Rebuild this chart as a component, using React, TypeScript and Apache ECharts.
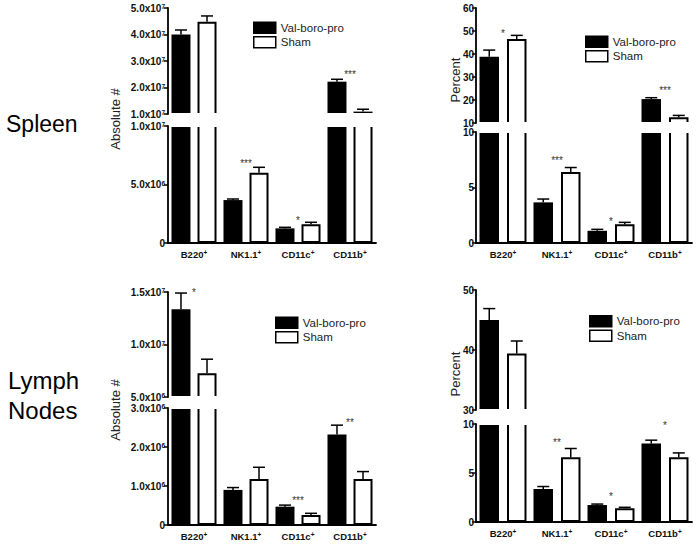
import React, { useEffect, useRef } from 'react';
import * as echarts from 'echarts';

const FONT = 'Liberation Sans, Arial, Helvetica, sans-serif';

const categories = ['B220', 'NK1.1', 'CD11c', 'CD11b'];
const seriesNames = ['Val-boro-pro', 'Sham'];

// Spleen, absolute numbers
const spleenAbsVal = [4.0e7, 3.67e6, 1.25e6, 2.22e7];
const spleenAbsValErr = [0.17e7, 0.09e6, 0.09e6, 0.09e7];
const spleenAbsSham = [4.48e7, 6.0e6, 1.6e6, 1.09e7];
const spleenAbsShamErr = [0.22e7, 0.47e6, 0.17e6, 0.09e7];
const spleenAbsStars = [
  { cat: 'NK1.1', y: 6.8e6, text: '***' },
  { cat: 'CD11c', y: 1.9e6, text: '*' },
  { cat: 'CD11b', y: 2.5e7, text: '***' },
];
const spleenAbsTopTicks = [1e7, 2e7, 3e7, 4e7, 5e7];
const spleenAbsBotTicks = [0, 5e6, 1e7];

// Spleen, percent
const spleenPctVal = [38.8, 3.66, 1.1, 20.4];
const spleenPctValErr = [2.9, 0.3, 0.13, 0.6];
const spleenPctSham = [46.5, 6.4, 1.68, 12.5];
const spleenPctShamErr = [1.6, 0.4, 0.18, 0.8];
const spleenPctStars = [
  { cat: 'B220', y: 49, text: '*' },
  { cat: 'NK1.1', y: 7.43, text: '***' },
  { cat: 'CD11c', y: 1.94, text: '*' },
  { cat: 'CD11b', y: 24.0, text: '***' },
];
const spleenPctTopTicks = [10, 20, 30, 40, 50, 60];
const spleenPctBotTicks = [0, 5, 10];

// Lymph nodes, absolute numbers
const lymphAbsVal = [1.335e7, 0.9e6, 0.47e6, 2.32e6];
const lymphAbsValErr = [0.155e7, 0.06e6, 0.04e6, 0.24e6];
const lymphAbsSham = [7.26e6, 1.18e6, 0.256e6, 1.18e6];
const lymphAbsShamErr = [1.34e6, 0.3e6, 0.044e6, 0.19e6];
const lymphAbsStars = [
  { cat: 'B220', y: 1.5e7, text: '*' },
  { cat: 'CD11c', y: 0.62e6, text: '***' },
  { cat: 'CD11b', y: 2.62e6, text: '**' },
];
const lymphAbsTopTicks = [5e6, 1e7, 1.5e7];
const lymphAbsBotTicks = [0, 1e6, 2e6, 3e6];

// Lymph nodes, percent
const lymphPctVal = [45, 3.37, 1.73, 8.0];
const lymphPctValErr = [1.9, 0.25, 0.1, 0.35];
const lymphPctSham = [39.4, 6.6, 1.4, 6.6];
const lymphPctShamErr = [2.1, 0.9, 0.1, 0.45];
const lymphPctStars = [
  { cat: 'NK1.1', y: 8.1, text: '**' },
  { cat: 'CD11c', y: 2.6, text: '*' },
  { cat: 'CD11b', y: 9.8, text: '*' },
];
const lymphPctTopTicks = [30, 40, 50];
const lymphPctBotTicks = [0, 5, 10];

type Seg = { y0: number; y1: number; ticks: number[] };
type Star = { cat: string; y: number; text: string };
type Panel = {
  val: number[]; valErr: number[]; sham: number[]; shamErr: number[]; stars: Star[];
  sci: boolean; axisName: string; left: number; width: number; top: Seg; bot: Seg;
  legend: { left: number; top: number }; nameX: number; nameY: number;
  barWidth: number; barGap: number; labelMargin: number;
};

const panels: Panel[] = [
  {
    val: spleenAbsVal, valErr: spleenAbsValErr, sham: spleenAbsSham, shamErr: spleenAbsShamErr, stars: spleenAbsStars,
    sci: true, axisName: 'Absolute #', left: 168, width: 208,
    top: { y0: 8, y1: 114, ticks: spleenAbsTopTicks },
    bot: { y0: 126, y1: 243, ticks: spleenAbsBotTicks },
    legend: { left: 253, top: 21.5 }, nameX: 115, nameY: 119, barWidth: 19, barGap: 0.37, labelMargin: 3,
  },
  {
    val: spleenPctVal, valErr: spleenPctValErr, sham: spleenPctSham, shamErr: spleenPctShamErr, stars: spleenPctStars,
    sci: false, axisName: 'Percent', left: 476, width: 216,
    top: { y0: 8, y1: 123, ticks: spleenPctTopTicks },
    bot: { y0: 132, y1: 243, ticks: spleenPctBotTicks },
    legend: { left: 585, top: 35.5 }, nameX: 455, nameY: 80, barWidth: 19.5, barGap: 0.41, labelMargin: 2,
  },
  {
    val: lymphAbsVal, valErr: lymphAbsValErr, sham: lymphAbsSham, shamErr: lymphAbsShamErr, stars: lymphAbsStars,
    sci: true, axisName: 'Absolute #', left: 168, width: 208,
    top: { y0: 292, y1: 397, ticks: lymphAbsTopTicks },
    bot: { y0: 408, y1: 525, ticks: lymphAbsBotTicks },
    legend: { left: 275, top: 316.5 }, nameX: 115, nameY: 410, barWidth: 19, barGap: 0.37, labelMargin: 3,
  },
  {
    val: lymphPctVal, valErr: lymphPctValErr, sham: lymphPctSham, shamErr: lymphPctShamErr, stars: lymphPctStars,
    sci: false, axisName: 'Percent', left: 476, width: 216,
    top: { y0: 290, y1: 410, ticks: lymphPctTopTicks },
    bot: { y0: 424, y1: 522, ticks: lymphPctBotTicks },
    legend: { left: 589, top: 315 }, nameX: 455, nameY: 374, barWidth: 19.5, barGap: 0.41, labelMargin: 2,
  },
];

function sciLabel(v: number): string {
  if (v === 0) return '{a|0}';
  const e = Math.floor(Math.log10(v) + 1e-9);
  const m = v / Math.pow(10, e);
  return `{a|${m.toFixed(1)}x10}{s|${e}}`;
}

function buildOption() {
  const grids: any[] = [];
  const xAxes: any[] = [];
  const yAxes: any[] = [];
  const series: any[] = [];
  const legends: any[] = [];
  const graphics: any[] = [];

  panels.forEach((p) => {
    const segs: Array<['top' | 'bot', Seg]> = [['top', p.top], ['bot', p.bot]];
    const off = (p.barWidth + p.barWidth * p.barGap) / 2;
    segs.forEach(([kind, s]) => {
      const idx = grids.length;
      const min = s.ticks[0];
      const max = s.ticks[s.ticks.length - 1];
      grids.push({ left: p.left, top: s.y0, width: p.width, height: s.y1 - s.y0 });
      xAxes.push({
        type: 'category', gridIndex: idx, data: categories, show: kind === 'bot',
        axisLine: { show: true, lineStyle: { color: '#000', width: 1.8 } },
        axisTick: { show: false },
        axisLabel: {
          interval: 0, margin: 6,
          formatter: (v: string) => `{a|${v}}{s|+}`,
          rich: {
            a: { fontSize: 9.5, fontWeight: 'bold', fontFamily: FONT, color: '#111' },
            s: { fontSize: 6.5, fontWeight: 'bold', fontFamily: FONT, color: '#111', verticalAlign: 'top' },
          },
        },
      });
      yAxes.push({
        type: 'value', gridIndex: idx, min, max,
        splitLine: { show: false },
        axisLine: { show: true, lineStyle: { color: '#000', width: 1.8 } },
        axisTick: { show: true, length: 4, customValues: s.ticks, lineStyle: { color: '#000', width: 1.5 } },
        axisLabel: {
          margin: p.labelMargin,
          customValues: s.ticks,
          formatter: (v: number) => (p.sci ? sciLabel(v) : `{a|${v}}`),
          rich: {
            a: { fontSize: 10, fontWeight: 'bold', fontFamily: FONT, color: '#111' },
            s: { fontSize: 6.5, fontWeight: 'bold', fontFamily: FONT, color: '#111', verticalAlign: 'top' },
          },
        },
      });
      const inSeg = (v: number) => (kind === 'top' ? v >= min : true);
      series.push({
        type: 'bar', name: seriesNames[0], xAxisIndex: idx, yAxisIndex: idx,
        data: p.val.map((v) => (inSeg(v) ? v : null)),
        barWidth: p.barWidth, barGap: `${p.barGap * 100}%`,
        itemStyle: { color: '#000' },
      });
      series.push({
        type: 'bar', name: seriesNames[1], xAxisIndex: idx, yAxisIndex: idx,
        data: p.sham.map((v) => (inSeg(v) ? v : null)),
        barWidth: p.barWidth, barGap: `${p.barGap * 100}%`,
        itemStyle: { color: '#fff', borderColor: '#000', borderWidth: 2 },
      });
      const errData: number[][] = [];
      p.val.forEach((v, i) => {
        const ok = kind === 'top' ? v >= min : v + p.valErr[i] <= max;
        if (ok) errData.push([i, v, p.valErr[i], 0]);
      });
      p.sham.forEach((v, i) => {
        const ok = kind === 'top' ? v >= min : v + p.shamErr[i] <= max;
        if (ok) errData.push([i, v, p.shamErr[i], 1]);
      });
      series.push({
        type: 'custom', xAxisIndex: idx, yAxisIndex: idx, data: errData,
        renderItem: (params: any, api: any) => {
          const c = api.value(0), v = api.value(1), e = api.value(2), g = api.value(3);
          const a = api.coord([c, v]);
          const b = api.coord([c, v + e]);
          const x = a[0] + (g === 0 ? -off : off);
          const cap = 6;
          return {
            type: 'group',
            children: [
              { type: 'line', shape: { x1: x, y1: a[1], x2: x, y2: b[1] }, style: { stroke: '#000', lineWidth: 1.5 } },
              { type: 'line', shape: { x1: x - cap, y1: b[1], x2: x + cap, y2: b[1] }, style: { stroke: '#000', lineWidth: 1.5 } },
            ],
          };
        },
      });
      const segStars = p.stars.filter((st) => (kind === 'top' ? st.y >= min : st.y < max));
      series.push({
        type: 'custom', xAxisIndex: idx, yAxisIndex: idx, z: 110,
        data: segStars.map((st) => [categories.indexOf(st.cat), st.y]),
        renderItem: (params: any, api: any) => {
          const st = segStars[params.dataIndex];
          const pt = api.coord([api.value(0), api.value(1)]);
          return {
            type: 'text', x: pt[0], y: pt[1],
            style: { text: st.text, fill: '#333', fontSize: 10, fontFamily: FONT, align: 'center', verticalAlign: 'middle' },
          };
        },
      });
    });

    legends.push({
      data: seriesNames, orient: 'vertical', left: p.legend.left, top: p.legend.top, padding: 0,
      itemWidth: 22, itemHeight: 11, itemGap: 2, icon: 'rect', selectedMode: false,
      itemStyle: { borderColor: '#000', borderWidth: 1.5 },
      textStyle: { fontSize: 11.5, fontFamily: FONT, color: '#222' },
    });

    // white gap of the broken axis
    graphics.push({
      type: 'rect', z: 100,
      shape: { x: p.left + 1.5, y: p.top.y1 - 1, width: p.width + 4, height: p.bot.y0 - p.top.y1 + 2 },
      style: { fill: '#fff' },
    });
    graphics.push({
      type: 'text', x: p.nameX, y: p.nameY, rotation: Math.PI / 2, z: 100,
      style: { text: p.axisName, fontSize: 13, fontFamily: FONT, fill: '#222', align: 'center', verticalAlign: 'middle' },
    });
  });

  graphics.push({
    type: 'text', x: 6, y: 124, z: 100,
    style: { text: 'Spleen', fontSize: 23, fontFamily: FONT, fill: '#000', align: 'left', verticalAlign: 'middle' },
  });
  graphics.push({
    type: 'text', x: 8, y: 380, z: 100,
    style: { text: 'Lymph', fontSize: 24, fontFamily: FONT, fill: '#000', align: 'left', verticalAlign: 'middle' },
  });
  graphics.push({
    type: 'text', x: 8, y: 410, z: 100,
    style: { text: 'Nodes', fontSize: 24, fontFamily: FONT, fill: '#000', align: 'left', verticalAlign: 'middle' },
  });

  return {
    animation: false,
    backgroundColor: '#fff',
    grid: grids,
    xAxis: xAxes,
    yAxis: yAxes,
    legend: legends,
    series,
    graphic: graphics,
  };
}

export default function App() {
  const ref = useRef<HTMLDivElement>(null);
  useEffect(() => {
    if (!ref.current) return;
    const chart = echarts.init(ref.current, undefined, { renderer: 'svg' });
    chart.setOption(buildOption() as any);
    return () => chart.dispose();
  }, []);
  return <div ref={ref} style={{ position: 'fixed', left: 0, top: 0, width: 699, height: 548, background: '#fff' }} />;
}
